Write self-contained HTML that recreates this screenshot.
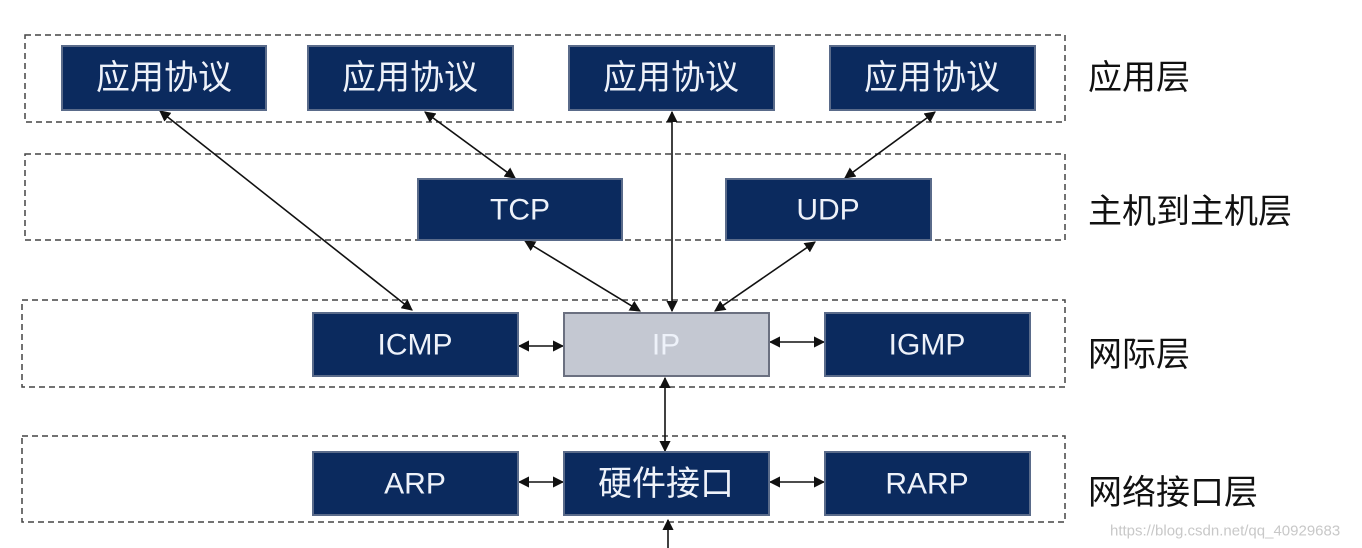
<!DOCTYPE html>
<html><head><meta charset="utf-8"><style>
html,body{margin:0;padding:0;background:#fff;width:1362px;height:548px;overflow:hidden}
svg{display:block}
.b{fill:#0b2a5e;stroke:#5a6b8a;stroke-width:2}
.t{font-family:"Liberation Sans","Noto Sans CJK SC",sans-serif;fill:#eef2fa;text-anchor:middle;dominant-baseline:central}
.l{font-family:"Liberation Sans","Noto Sans CJK SC",sans-serif;fill:#111;font-size:34px;dominant-baseline:central}
.d{fill:none;stroke:#444;stroke-width:1.5;stroke-dasharray:6,4}
.a{stroke:#111;stroke-width:1.6;marker-start:url(#m);marker-end:url(#m)}
</style></head><body>
<svg width="1362" height="548" viewBox="0 0 1362 548">
<defs><marker id="m" viewBox="0 0 10 10" refX="9" refY="5" markerWidth="7" markerHeight="7" orient="auto-start-reverse"><path d="M0,0L10,5L0,10z" fill="#111"/></marker></defs>
<rect class="d" x="25" y="35" width="1040" height="87"/>
<rect class="d" x="25" y="154" width="1040" height="86"/>
<rect class="d" x="22" y="300" width="1043" height="87"/>
<rect class="d" x="22" y="436" width="1043" height="86"/>

<line class="a" x1="160" y1="111" x2="412" y2="310"/>
<line class="a" x1="425" y1="112" x2="515" y2="178"/>
<line class="a" x1="672" y1="112" x2="672" y2="311"/>
<line class="a" x1="935" y1="112" x2="845" y2="178"/>
<line class="a" x1="525" y1="241" x2="640" y2="311"/>
<line class="a" x1="815" y1="242" x2="715" y2="311"/>
<line class="a" x1="519" y1="346" x2="563" y2="346"/>
<line class="a" x1="770" y1="342" x2="824" y2="342"/>
<line class="a" x1="665" y1="378" x2="665" y2="451"/>
<line class="a" x1="519" y1="482" x2="563" y2="482"/>
<line class="a" x1="770" y1="482" x2="824" y2="482"/>
<line x1="668" y1="548" x2="668" y2="520" style="stroke:#111;stroke-width:1.6;marker-end:url(#m)"/>

<rect class="b" x="62" y="46" width="204" height="64"/><text class="t" x="164" y="78" font-size="34">应用协议</text>
<rect class="b" x="308" y="46" width="205" height="64"/><text class="t" x="410" y="78" font-size="34">应用协议</text>
<rect class="b" x="569" y="46" width="205" height="64"/><text class="t" x="671" y="78" font-size="34">应用协议</text>
<rect class="b" x="830" y="46" width="205" height="64"/><text class="t" x="932" y="78" font-size="34">应用协议</text>

<rect class="b" x="418" y="179" width="204" height="61"/><text class="t" x="520" y="210" font-size="30">TCP</text>
<rect class="b" x="726" y="179" width="205" height="61"/><text class="t" x="828" y="210" font-size="30">UDP</text>

<rect class="b" x="313" y="313" width="205" height="63"/><text class="t" x="415" y="345" font-size="30">ICMP</text>
<rect x="564" y="313" width="205" height="63" fill="#c4c8d2" stroke="#6b7080" stroke-width="2"/><text class="t" x="666" y="345" font-size="30">IP</text>
<rect class="b" x="825" y="313" width="205" height="63"/><text class="t" x="927" y="345" font-size="30">IGMP</text>

<rect class="b" x="313" y="452" width="205" height="63"/><text class="t" x="415" y="484" font-size="30">ARP</text>
<rect class="b" x="564" y="452" width="205" height="63"/><text class="t" x="666" y="484" font-size="34">硬件接口</text>
<rect class="b" x="825" y="452" width="205" height="63"/><text class="t" x="927" y="484" font-size="30">RARP</text>

<text class="l" x="1088" y="78">应用层</text>
<text class="l" x="1088" y="212">主机到主机层</text>
<text class="l" x="1088" y="355">网际层</text>
<text class="l" x="1088" y="493">网络接口层</text>
<text x="1110" y="531" font-family="Liberation Sans,sans-serif" font-size="15" fill="#c8c8c8" dominant-baseline="central">https://blog.csdn.net/qq_40929683</text>
</svg>
</body></html>
